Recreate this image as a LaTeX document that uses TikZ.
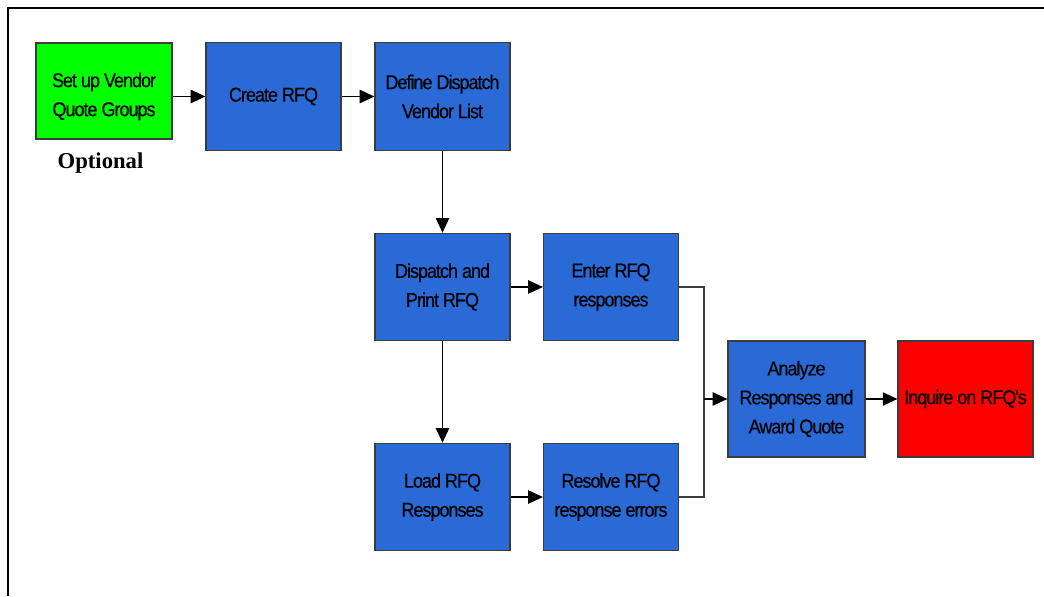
\documentclass[tikz,border=0pt]{standalone}
\usepackage{fontspec}
\setmainfont{Liberation Serif}
\newfontfamily\boxfont[FakeStretch=0.9,LetterSpace=-5,FakeBold=0.4]{Liberation Sans}
\usetikzlibrary{arrows.meta}
\definecolor{boxblue}{RGB}{42,106,214}
\definecolor{boxgreen}{RGB}{0,255,0}
\definecolor{boxred}{RGB}{255,0,0}
\definecolor{edgegray}{RGB}{60,60,60}
\tikzset{
  boxtext/.style={inner sep=0pt, align=center, font=\boxfont\fontsize{15}{21.75}\selectfont},
  box/.style={boxtext, draw=edgegray, line width=0.9pt, fill=boxblue,
    minimum width=101.25pt, minimum height=80.5pt},
  conn/.style={draw=edgegray, line width=1pt},
  arr/.style={conn, -{Triangle[length=11pt,width=10pt]}, color=black},
  frame/.style={line width=1.5pt, black}
}
\begin{document}
\begin{tikzpicture}[x=0.75pt,y=-0.75pt]
\useasboundingbox (0,0) rectangle (1044,596);
\draw[frame] (7.5,596) -- (7.5,7.5) -- (1044,7.5);
\node[box, fill=boxgreen, minimum width=102pt, minimum height=72pt] (setup) at (104,91) {};
\node[boxtext] (setuptext) at (104,96.5) {Set up Vendor\\Quote Groups};
\node[font=\bfseries\fontsize{17}{20}\selectfont] (opt) at (100.5,163) {Optional};
\node[box] (create) at (273.5,96.5) {Create RFQ};
\node[box] (define) at (442.5,96.5) {Define Dispatch\\Vendor List};
\node[box] (dispatch) at (442.5,287) {Dispatch and\\Print RFQ};
\node[box] (enter) at (611,287) {Enter RFQ\\responses};
\node[box] (load) at (442.5,497) {Load RFQ\\Responses};
\node[box] (resolve) at (611,497) {Resolve RFQ\\response errors};
\node[box, minimum width=102.75pt, minimum height=87pt] (analyze) at (796.5,399) {Analyze\\Responses and\\Award Quote};
\node[box, fill=boxred, minimum height=87pt] (inquire) at (965.5,399) {Inquire on RFQ's};
\coordinate (j) at (704,399);
\draw[arr] (setup.east |- create.west) -- (create.west);
\draw[arr] (create.east) -- (define.west);
\draw[arr] (define.south) -- (dispatch.north);
\draw[arr] (dispatch.east) -- (enter.west);
\draw[arr] (dispatch.south) -- (load.north);
\draw[arr] (load.east) -- (resolve.west);
\draw[conn] (enter.east) -| (j) |- (resolve.east);
\draw[arr] (j) -- (analyze.west);
\draw[arr] (analyze.east) -- (inquire.west);
\end{tikzpicture}
\end{document}
